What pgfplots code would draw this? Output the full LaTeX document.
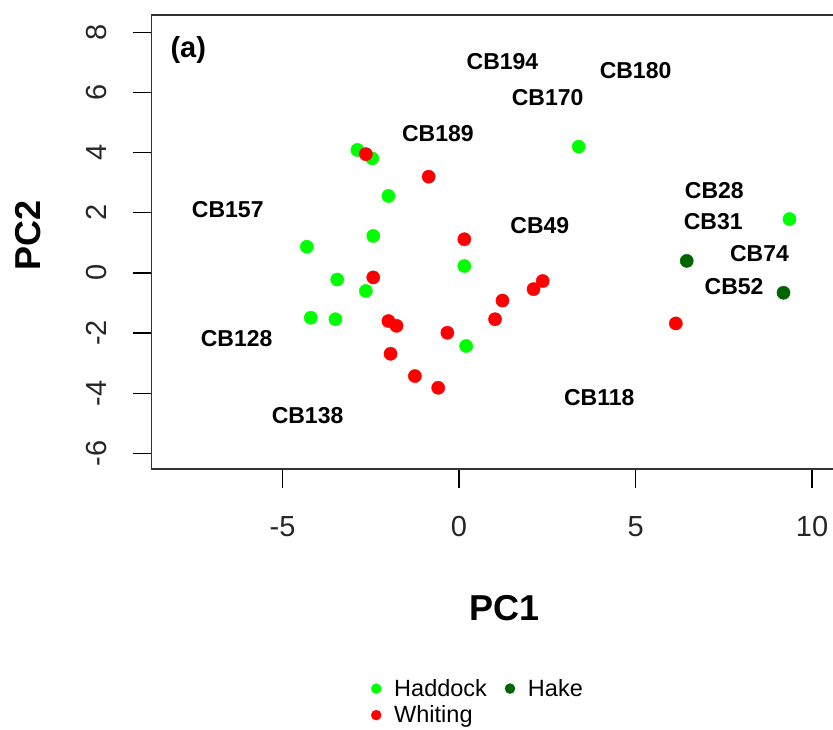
\documentclass[border=0pt]{standalone}
\usepackage{pgfplots}
\pgfplotsset{compat=1.18}
\usepackage{fontspec}
\setmainfont{Liberation Sans}

\definecolor{haddock}{RGB}{0,255,0}
\definecolor{whiting}{RGB}{255,0,0}
\definecolor{hake}{RGB}{0,100,0}

\begin{document}
\begin{tikzpicture}
\begin{axis}[
  scale only axis,
  width=706.3pt, height=454pt,
  xmin=-8.705, xmax=11.30,
  ymin=-6.521, ymax=8.577,
  xtick={-5,0,5,10},
  ytick={-6,-4,...,8},
  xtick pos=bottom, ytick pos=left,
  tick align=outside,
  major tick length=19pt,
  every tick/.style={black, line width=1.3pt},
  axis line style={black!80, line width=1.5pt},
  /pgf/number format/assume math mode=true,
  tick label style={font=\fontsize{29}{34}\selectfont, text=black!85},
  xticklabel style={anchor=center, yshift=-39pt},
  yticklabel style={rotate=90, anchor=center, yshift=36pt},
  xlabel={PC1}, ylabel={PC2},
  label style={font=\bfseries\fontsize{36}{40}\selectfont},
  xlabel style={at={(axis description cs:0.5,-0.3068)}, anchor=center},
  ylabel style={at={(axis description cs:-0.1747,0.5154)}, anchor=center, rotate=0},
  legend columns=2,
  legend cell align=left,
  legend style={
    at={(axis description cs:0.3063,-0.454)}, anchor=north west,
    draw=none, fill=none,
    font=\fontsize{23.5}{26}\selectfont,
    /tikz/every odd column/.append style={column sep=11pt},
    /tikz/every even column/.append style={column sep=16pt},
    row sep=4pt,
  },
  legend image code/.code={\draw[#1] plot coordinates {(0pt,0pt)};},
]
% Haddock
\addplot[only marks, mark=*, mark size=6.6pt, color=haddock, forget plot] coordinates {
  (-2.88,4.09) (-2.46,3.81) (-2.00,2.56) (-2.43,1.23) (-4.31,0.87)
  (0.15,0.23) (-3.45,-0.22) (-2.64,-0.60) (-4.20,-1.49) (-3.50,-1.54)
  (0.20,-2.43) (3.39,4.20) (9.36,1.79)
};
% Whiting
\addplot[only marks, mark=*, mark size=6.6pt, color=whiting, forget plot] coordinates {
  (-2.64,3.95) (-0.86,3.20) (0.15,1.12) (-2.43,-0.15) (-2.00,-1.60)
  (-1.77,-1.76) (-1.94,-2.69) (-1.25,-3.43) (-0.59,-3.82) (-0.33,-1.99)
  (1.02,-1.54) (1.23,-0.92) (2.11,-0.54) (2.37,-0.27) (6.14,-1.68)
};
% Hake
\addplot[only marks, mark=*, mark size=6.6pt, color=hake, forget plot] coordinates {
  (6.45,0.40) (9.19,-0.66)
};

\addlegendimage{only marks, mark=*, mark size=5pt, color=haddock}
\addlegendentry{Haddock}
\addlegendimage{only marks, mark=*, mark size=5pt, color=hake}
\addlegendentry{Hake}
\addlegendimage{only marks, mark=*, mark size=5pt, color=whiting}
\addlegendentry{Whiting}

% sample labels
\begin{scope}[every node/.style={font=\bfseries\fontsize{23}{26}\selectfont}]
\node at (axis cs:1.23,7.02) {CB194};
\node at (axis cs:5.00,6.72) {CB180};
\node at (axis cs:2.51,5.84) {CB170};
\node at (axis cs:-0.60,4.64) {CB189};
\node at (axis cs:-6.55,2.12) {CB157};
\node at (axis cs:2.29,1.59) {CB49};
\node at (axis cs:7.23,2.73) {CB28};
\node at (axis cs:7.20,1.70) {CB31};
\node at (axis cs:8.51,0.65) {CB74};
\node at (axis cs:7.79,-0.46) {CB52};
\node at (axis cs:-6.30,-2.18) {CB128};
\node at (axis cs:-4.29,-4.75) {CB138};
\node at (axis cs:3.97,-4.15) {CB118};
\end{scope}
\node[font=\bfseries\fontsize{29}{32}\selectfont] at (axis cs:-7.67,7.41) {(a)};
\end{axis}
\pgfresetboundingbox
\useasboundingbox (-151.7pt,-260pt) rectangle (681.3pt,469pt);
\end{tikzpicture}
\end{document}
